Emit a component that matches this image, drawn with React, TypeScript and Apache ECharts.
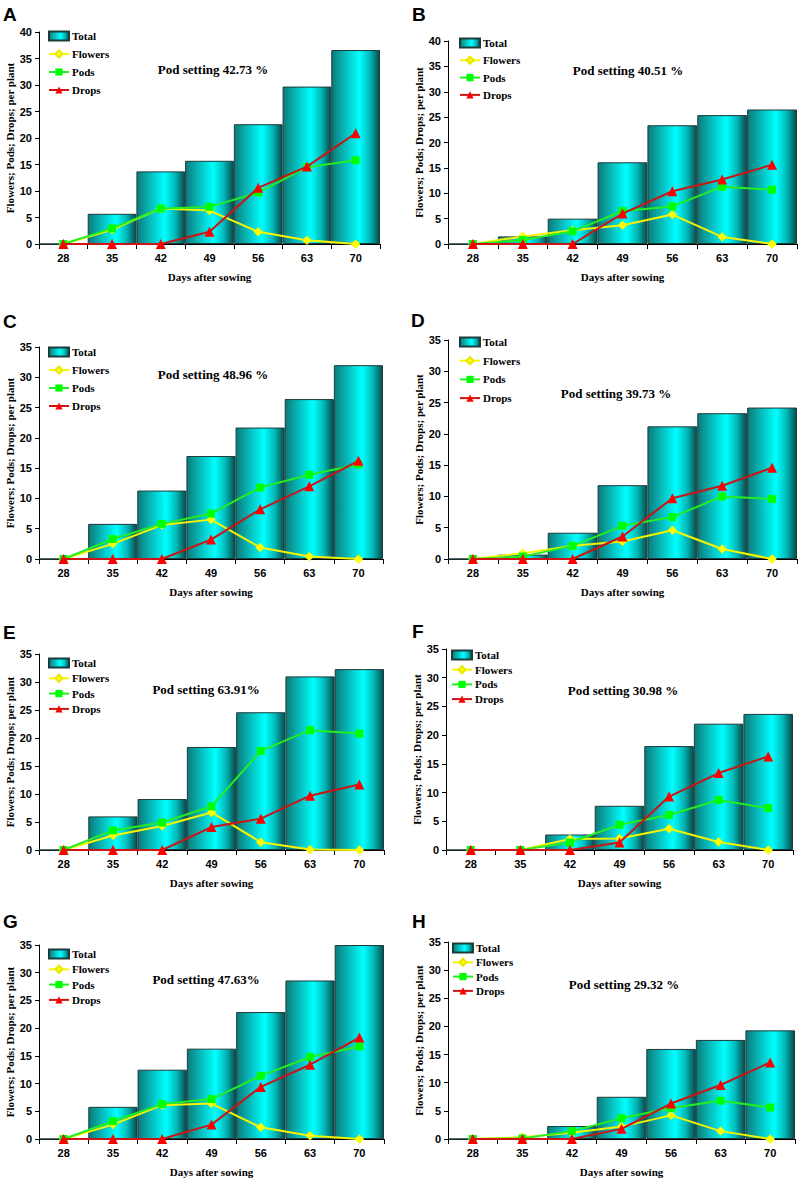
import React, { useEffect, useRef } from "react";
import * as echarts from "echarts";

const days = ["28", "35", "42", "49", "56", "63", "70"];
const panelLetters = ["A", "B", "C", "D", "E", "F", "G", "H"];
const podSettingLabels = [
  "Pod setting 42.73 %",
  "Pod setting 40.51 %",
  "Pod setting 48.96 %",
  "Pod setting 39.73 %",
  "Pod setting 63.91%",
  "Pod setting 30.98 %",
  "Pod setting 47.63%",
  "Pod setting 29.32 %",
];
const yMaxes = [40, 40, 35, 35, 35, 35, 35, 35];

// Panel A
const totalA = [0, 5.7, 13.7, 15.7, 22.6, 29.7, 36.6];
const flowersA = [0, 2.7, 6.7, 6.3, 2.3, 0.7, 0];
const podsA = [0, 2.95, 6.7, 7.0, 9.7, 14.5, 15.8];
const dropsA = [0, 0, 0, 2.3, 10.6, 14.6, 20.9];
// Panel B
const totalB = [0, 1.5, 5.0, 16.1, 23.4, 25.4, 26.5];
const flowersB = [0, 1.5, 2.7, 3.7, 5.8, 1.4, 0];
const podsB = [0, 0.8, 2.5, 6.5, 7.4, 11.3, 10.7];
const dropsB = [0, 0, 0, 6.0, 10.4, 12.7, 15.6];
// Panel C
const totalC = [0, 5.8, 11.3, 17.0, 21.7, 26.4, 32.0];
const flowersC = [0, 2.5, 5.6, 6.5, 1.9, 0.4, 0];
const podsC = [0, 3.3, 5.8, 7.5, 11.8, 13.9, 15.6];
const dropsC = [0, 0, 0, 3.2, 8.2, 12.0, 16.2];
// Panel D
const totalD = [0, 0.7, 4.2, 11.8, 21.2, 23.3, 24.2];
const flowersD = [0, 0.9, 2.1, 2.8, 4.6, 1.6, 0];
const podsD = [0, 0.4, 2.1, 5.3, 6.7, 10.0, 9.6];
const dropsD = [0, 0, 0, 3.6, 9.7, 11.7, 14.6];
// Panel E
const totalE = [0, 6.0, 9.1, 18.4, 24.6, 31.0, 32.3];
const flowersE = [0, 2.6, 4.3, 6.7, 1.4, 0.1, 0];
const podsE = [0, 3.5, 4.9, 7.8, 17.7, 21.4, 20.8];
const dropsE = [0, 0, 0, 4.1, 5.6, 9.7, 11.7];
// Panel F
const totalF = [0, 0, 2.7, 7.7, 18.1, 22.0, 23.7];
const flowersF = [0, 0, 1.9, 2.0, 3.7, 1.4, 0];
const podsF = [0, 0, 1.3, 4.4, 6.1, 8.7, 7.3];
const dropsF = [0, 0, 0, 1.3, 9.3, 13.4, 16.3];
// Panel G
const totalG = [0, 5.8, 12.5, 16.3, 22.9, 28.6, 35.0];
const flowersG = [0, 2.6, 6.1, 6.4, 2.1, 0.6, 0];
const podsG = [0, 3.2, 6.3, 7.2, 11.4, 14.8, 16.7];
const dropsG = [0, 0, 0, 2.6, 9.4, 13.4, 18.3];
// Panel H
const totalH = [0, 0, 2.3, 7.5, 16.0, 17.6, 19.3];
const flowersH = [0, 0.3, 1.1, 2.2, 4.2, 1.4, 0];
const podsH = [0, 0.1, 1.4, 3.7, 5.5, 6.8, 5.6];
const dropsH = [0, 0, 0, 1.8, 6.3, 9.6, 13.6];

const totals = [totalA, totalB, totalC, totalD, totalE, totalF, totalG, totalH];
const flowers = [flowersA, flowersB, flowersC, flowersD, flowersE, flowersF, flowersG, flowersH];
const pods = [podsA, podsB, podsC, podsD, podsE, podsF, podsG, podsH];
const drops = [dropsA, dropsB, dropsC, dropsD, dropsE, dropsF, dropsG, dropsH];

// layout: grid box, legend position, annotation position, letter position
const layouts = [
  { left: 39, top: 32, width: 341, height: 212, lgX: 48, lgY: 30, lgGap: 6, psX: 213, psY: 69, ltX: 3, ltY: 14 },
  { left: 448, top: 41, width: 349, height: 203, lgX: 459, lgY: 37, lgGap: 5.3, psX: 628, psY: 70, ltX: 412, ltY: 14 },
  { left: 39, top: 347, width: 344, height: 212, lgX: 48, lgY: 346, lgGap: 6, psX: 213, psY: 374, ltX: 3, ltY: 321 },
  { left: 448, top: 340, width: 349, height: 219, lgX: 459, lgY: 336, lgGap: 6.7, psX: 616, psY: 393, ltX: 411, ltY: 320 },
  { left: 39, top: 654, width: 345, height: 196, lgX: 48, lgY: 657, lgGap: 3.3, psX: 206, psY: 689, ltX: 3, ltY: 632 },
  { left: 446, top: 649, width: 347, height: 201, lgX: 451, lgY: 649, lgGap: 2.7, psX: 623, psY: 690, ltX: 412, ltY: 631 },
  { left: 39, top: 945, width: 345, height: 196, lgX: 48, lgY: 948, lgGap: 3.3, psX: 206, psY: 979, ltX: 3, ltY: 921 },
  { left: 448, top: 942, width: 347, height: 198, lgX: 452, lgY: 942, lgGap: 2.3, psX: 624, psY: 984, ltX: 412, ltY: 921 },
];

const serif = "'Liberation Serif', 'Times New Roman', serif";
const sans = "'Liberation Sans', Arial, sans-serif";

const barGradient = new echarts.graphic.LinearGradient(0, 0, 1, 0, [
  { offset: 0, color: "#0c7a7a" },
  { offset: 0.3, color: "#07c0c0" },
  { offset: 0.58, color: "#00ffff" },
  { offset: 0.8, color: "#02b8b8" },
  { offset: 1, color: "#044c4c" },
]);

export default function App() {
  const ref = useRef<HTMLDivElement>(null);

  useEffect(() => {
    if (!ref.current) return;
    const chart = echarts.init(ref.current, null, { renderer: "svg" });

    const grid: any[] = [];
    const xAxis: any[] = [];
    const yAxis: any[] = [];
    const series: any[] = [];
    const legend: any[] = [];
    const graphic: any[] = [];

    layouts.forEach((L, i) => {
      grid.push({ left: L.left, top: L.top, width: L.width, height: L.height, containLabel: false });
      xAxis.push({
        type: "category",
        gridIndex: i,
        data: days,
        boundaryGap: true,
        axisLine: { show: true, lineStyle: { color: "#000", width: 1 } },
        axisTick: { show: true, length: 5, lineStyle: { color: "#000" } },
        axisLabel: { color: "#000", fontFamily: sans, fontWeight: "bold", fontSize: 11, margin: 8 },
        name: "Days after sowing",
        nameLocation: "middle",
        nameGap: 27,
        nameTextStyle: { color: "#000", fontFamily: serif, fontWeight: "bold", fontSize: 11 },
        splitLine: { show: false },
      });
      yAxis.push({
        type: "value",
        gridIndex: i,
        min: 0,
        max: yMaxes[i],
        interval: 5,
        axisLine: { show: true, lineStyle: { color: "#000", width: 1 } },
        axisTick: { show: true, length: 4, lineStyle: { color: "#000" } },
        axisLabel: { color: "#000", fontFamily: sans, fontWeight: "bold", fontSize: 11, margin: 7 },
        splitLine: { show: false },
        name: "Flowers; Pods; Drops; per plant",
        nameLocation: "middle",
        nameGap: 20,
        nameTextStyle: { color: "#000", fontFamily: serif, fontWeight: "bold", fontSize: 11 },
      });
      series.push({
        name: "Total",
        type: "bar",
        xAxisIndex: i,
        yAxisIndex: i,
        data: totals[i],
        barCategoryGap: "0%",
        itemStyle: { color: barGradient, borderColor: "#1e3b3b", borderWidth: 1 },
        z: 1,
      });
      series.push({
        name: "Flowers",
        type: "line",
        xAxisIndex: i,
        yAxisIndex: i,
        data: flowers[i],
        symbol: "diamond",
        symbolSize: 9,
        lineStyle: { color: "#f5f500", width: 2 },
        itemStyle: { color: "#ffff00", borderColor: "#e8e800", borderWidth: 0.5 },
        z: 3,
      });
      series.push({
        name: "Pods",
        type: "line",
        xAxisIndex: i,
        yAxisIndex: i,
        data: pods[i],
        symbol: "rect",
        symbolSize: 8,
        lineStyle: { color: "#22ee22", width: 2 },
        itemStyle: { color: "#00ff00" },
        z: 4,
      });
      series.push({
        name: "Drops",
        type: "line",
        xAxisIndex: i,
        yAxisIndex: i,
        data: drops[i],
        symbol: "triangle",
        symbolSize: 10,
        lineStyle: { color: "#cc1414", width: 2 },
        itemStyle: { color: "#ff0000" },
        z: 5,
      });
      legend.push({
        orient: "vertical",
        left: L.lgX,
        top: L.lgY,
        itemWidth: 20,
        itemHeight: 9,
        itemGap: L.lgGap,
        padding: 0,
        selectedMode: false,
        data: [{ name: "Total", icon: "rect" }, "Flowers", "Pods", "Drops"],
        textStyle: { color: "#000", fontFamily: serif, fontWeight: "bold", fontSize: 11, lineHeight: 12, padding: [0, 0, 0, -2] },
      });
      graphic.push({
        type: "text",
        x: L.psX,
        y: L.psY,
        style: {
          text: podSettingLabels[i],
          fill: "#000",
          font: `bold 13px ${serif}`,
          textAlign: "center",
          textVerticalAlign: "middle",
          verticalAlign: "middle",
        },
      });
      graphic.push({
        type: "text",
        x: L.ltX,
        y: L.ltY,
        style: {
          text: panelLetters[i],
          fill: "#000",
          font: `bold 19px ${sans}`,
          textAlign: "left",
          textVerticalAlign: "middle",
          verticalAlign: "middle",
        },
      });
    });

    chart.setOption({
      animation: false,
      backgroundColor: "#ffffff",
      grid,
      xAxis,
      yAxis,
      series,
      legend,
      graphic,
    });

    return () => {
      chart.dispose();
    };
  }, []);

  return (
    <div
      ref={ref}
      style={{ position: "absolute", left: 0, top: 0, width: 798, height: 1178, background: "#fff" }}
    />
  );
}
